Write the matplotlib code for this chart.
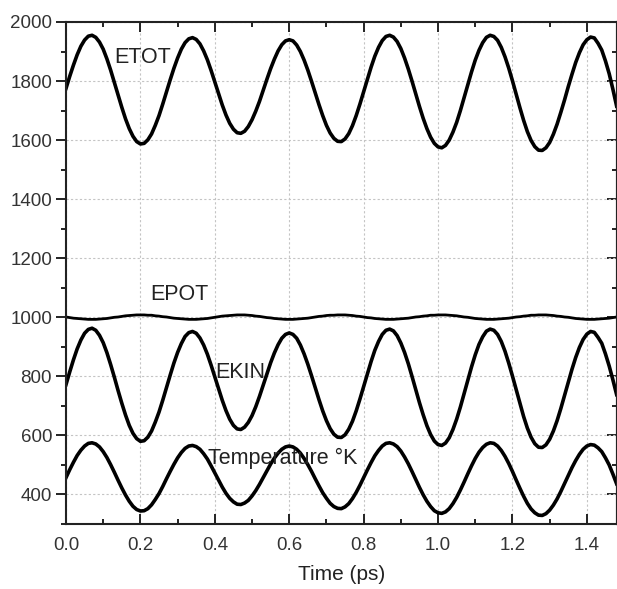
import numpy as np
import matplotlib
matplotlib.use('Agg')
import matplotlib.pyplot as plt
from matplotlib.ticker import MultipleLocator, FormatStrFormatter

plt.rcParams['font.family'] = ['Liberation Sans', 'DejaVu Sans']

# time (ps), one reading every 0.01 ps
time = np.linspace(0, 1.48, 149)

etot = [1775, 1816, 1854, 1889, 1918, 1939, 1952, 1955, 1948, 1932,
        1908, 1875, 1837, 1795, 1753, 1711, 1672, 1639, 1613, 1595,
        1587, 1589, 1601, 1621, 1650, 1683, 1722, 1763, 1804, 1843,
        1878, 1908, 1930, 1943, 1947, 1941, 1926, 1902, 1872, 1836,
        1797, 1757, 1719, 1685, 1657, 1637, 1625, 1623, 1630, 1646,
        1669, 1698, 1731, 1769, 1806, 1842, 1874, 1902, 1923, 1936,
        1940, 1936, 1922, 1900, 1871, 1837, 1799, 1759, 1720, 1683,
        1650, 1624, 1606, 1596, 1595, 1604, 1622, 1649, 1683, 1722,
        1764, 1806, 1847, 1884, 1914, 1937, 1951, 1955, 1949, 1934,
        1910, 1878, 1841, 1800, 1757, 1714, 1674, 1639, 1610, 1589,
        1577, 1574, 1582, 1600, 1627, 1660, 1700, 1744, 1788, 1831,
        1871, 1904, 1930, 1948, 1955, 1951, 1938, 1914, 1882, 1844,
        1801, 1755, 1710, 1667, 1629, 1599, 1578, 1566, 1565, 1574,
        1592, 1620, 1654, 1694, 1736, 1781, 1823, 1863, 1896, 1923,
        1940, 1949, 1946, 1928, 1905, 1868, 1825, 1772, 1715]

epot = [1001, 999, 997, 996, 995, 994, 993, 993, 993, 994,
        995, 996, 998, 1000, 1001, 1003, 1005, 1006, 1007, 1008,
        1008, 1008, 1007, 1007, 1005, 1004, 1002, 1001, 999, 997,
        996, 995, 994, 993, 993, 993, 994, 995, 996, 998,
        1000, 1002, 1004, 1005, 1006, 1007, 1008, 1008, 1008, 1007,
        1006, 1004, 1003, 1001, 999, 998, 996, 995, 994, 993,
        993, 993, 994, 995, 996, 997, 999, 1001, 1003, 1004,
        1006, 1007, 1007, 1008, 1008, 1008, 1007, 1006, 1004, 1003,
        1001, 999, 998, 996, 995, 994, 993, 993, 993, 994,
        995, 996, 997, 999, 1001, 1002, 1004, 1005, 1007, 1007,
        1008, 1008, 1008, 1007, 1006, 1005, 1003, 1001, 1000, 998,
        996, 995, 994, 993, 993, 993, 994, 995, 996, 997,
        999, 1001, 1002, 1004, 1005, 1007, 1007, 1008, 1008, 1008,
        1007, 1006, 1004, 1003, 1001, 1000, 998, 996, 995, 994,
        993, 993, 993, 994, 995, 996, 997, 999, 1001]

ekin = [772, 815, 856, 893, 923, 946, 959, 963, 956, 939,
        914, 880, 840, 797, 752, 709, 669, 634, 607, 589,
        580, 582, 594, 615, 645, 679, 719, 762, 804, 845,
        881, 911, 935, 948, 952, 946, 930, 906, 875, 838,
        798, 758, 719, 684, 655, 634, 622, 620, 628, 644,
        667, 697, 732, 770, 808, 846, 879, 907, 929, 942,
        947, 942, 929, 906, 876, 841, 802, 761, 721, 683,
        650, 623, 604, 594, 593, 602, 621, 648, 683, 723,
        765, 808, 850, 888, 918, 942, 956, 960, 954, 938,
        913, 881, 843, 800, 755, 711, 670, 633, 603, 581,
        569, 566, 574, 592, 620, 655, 696, 741, 787, 832,
        873, 908, 934, 953, 960, 956, 942, 918, 885, 845,
        801, 755, 708, 664, 625, 594, 572, 560, 559, 568,
        587, 615, 650, 691, 735, 780, 824, 864, 898, 925,
        943, 952, 949, 932, 912, 876, 835, 788, 738]

temp = [457, 484, 509, 532, 550, 564, 573, 575, 571, 561,
        545, 525, 501, 475, 448, 422, 398, 377, 360, 349,
        344, 345, 352, 365, 383, 403, 427, 453, 478, 502,
        524, 542, 556, 564, 566, 562, 553, 538, 520, 497,
        473, 449, 425, 404, 387, 375, 367, 366, 371, 380,
        395, 413, 434, 457, 480, 503, 523, 540, 553, 561,
        564, 561, 553, 540, 522, 501, 478, 453, 429, 406,
        387, 370, 359, 353, 352, 358, 369, 386, 407, 431,
        457, 483, 508, 531, 549, 564, 573, 575, 571, 562,
        547, 527, 504, 478, 451, 424, 399, 377, 359, 345,
        338, 336, 341, 352, 369, 390, 415, 442, 470, 497,
        522, 543, 559, 570, 575, 573, 564, 549, 529, 505,
        478, 449, 421, 394, 370, 351, 338, 330, 329, 335,
        347, 364, 385, 410, 437, 464, 491, 515, 536, 553,
        564, 569, 567, 558, 545, 524, 500, 469, 436]

labels = ['ETOT', 'EPOT', 'EKIN', 'Temperature °K']
label_pos = [(0.131, 1860), (0.227, 1057), (0.400, 795), (0.381, 502)]

fig = plt.figure(figsize=(6.17, 5.89), dpi=100)
ax = fig.add_axes([66 / 617, 65 / 589, 551 / 617, 502 / 589])

ax.plot(time, etot, color='black', lw=2.6, solid_joinstyle='round')
ax.plot(time, epot, color='black', lw=2.0, solid_joinstyle='round')
ax.plot(time, ekin, color='black', lw=2.6, solid_joinstyle='round')
ax.plot(time, temp, color='black', lw=2.6, solid_joinstyle='round')

for txt, (x, y) in zip(labels, label_pos):
    ax.text(x, y, txt, fontsize=15.5, color='#222222', va='baseline', ha='left')

ax.set_xlim(0, 1.481)
ax.set_ylim(300, 2000)

ax.xaxis.set_major_locator(MultipleLocator(0.2))
ax.xaxis.set_minor_locator(MultipleLocator(0.1))
ax.xaxis.set_major_formatter(FormatStrFormatter('%.1f'))
ax.yaxis.set_major_locator(MultipleLocator(200))
ax.yaxis.set_minor_locator(MultipleLocator(100))

ax.grid(True, which='major', color='#c4c4c4', linestyle=(0, (2, 2)), linewidth=0.8)

ax.tick_params(axis='x', which='both', direction='in', top=True, bottom=True,
               colors='#222222', labelcolor='#333333', labelsize=13.5, pad=9, width=1.4)
ax.tick_params(axis='x', which='major', length=7)
ax.tick_params(axis='x', which='minor', length=3.5)
ax.tick_params(axis='y', which='both', direction='out', left=True, right=False,
               colors='#222222', labelcolor='#333333', labelsize=13.5, pad=3, width=1.4)
ax.tick_params(axis='y', which='major', length=7)
ax.tick_params(axis='y', which='minor', length=3.5)

# inward ticks on the right side
sec = ax.secondary_yaxis('right')
sec.yaxis.set_major_locator(MultipleLocator(200))
sec.yaxis.set_minor_locator(MultipleLocator(100))
sec.tick_params(which='both', direction='in', labelright=False, width=1.4, colors='#222222')
sec.tick_params(which='major', length=7)
sec.tick_params(which='minor', length=3.5)
sec.spines['right'].set_linewidth(1.5)

for s in ax.spines.values():
    s.set_linewidth(1.5)
    s.set_color('#222222')

ax.set_xlabel('Time (ps)', fontsize=15, color='#222222', labelpad=8)

fig.savefig('out.png', dpi=100)
